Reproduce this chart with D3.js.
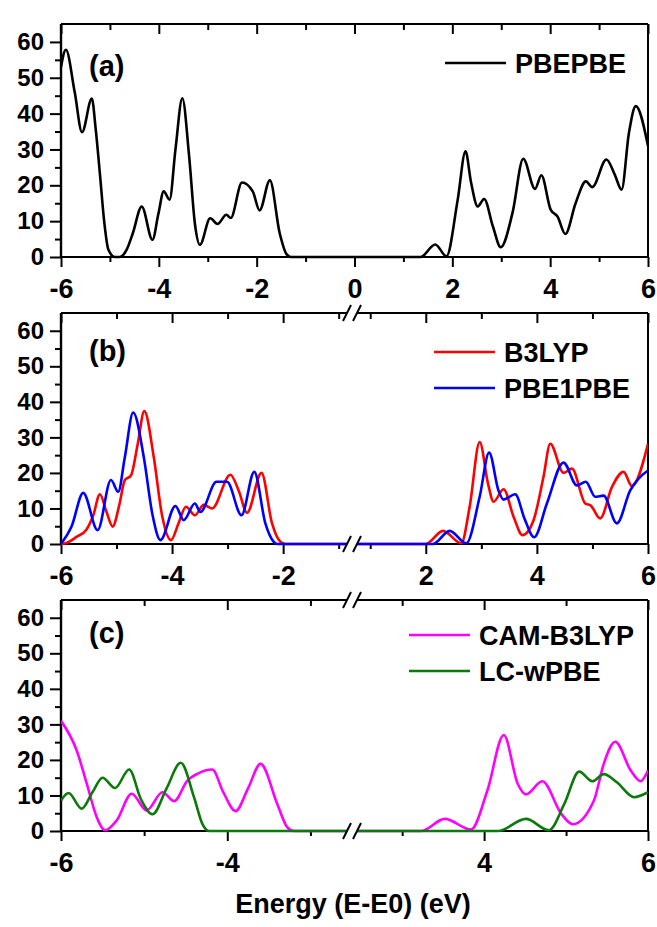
<!DOCTYPE html>
<html>
<head>
<meta charset="utf-8">
<script src="https://cdn.jsdelivr.net/npm/d3@7"></script>
<style>
  body { margin: 0; background: #fff; }
  text { font-family: "Liberation Sans", Arial, sans-serif; font-weight: bold; }
</style>
</head>
<body>
<script>
const width = 657;
const height = 927;

// ---- data (energy in eV, DOS) ----
const pbepbe = [[-6,53],[-5.9,57.8],[-5.72,46],[-5.57,34.8],[-5.37,44.2],[-5.29,35.6],[-5.2,22.5],[-5.12,10.3],
  [-5.03,2],[-4.9,0],[-4.8,0],[-4.66,2],[-4.53,6.7],[-4.35,14.1],[-4.13,4.8],[-4.01,12],[-3.9,18.3],[-3.78,16],
  [-3.66,30],[-3.52,44.3],[-3.38,28],[-3.26,9],[-3.16,3.4],[-2.95,10.8],[-2.8,9.2],[-2.62,11.8],[-2.53,10.9],
  [-2.3,20.8],[-2.08,18.3],[-1.94,13],[-1.73,21.4],[-1.53,6.7],[-1.39,0.8],[-1.3,0],[0,0],[1.35,0],[1.65,3.5],
  [1.88,0.2],[2.11,16],[2.27,29.5],[2.38,21],[2.52,14.1],[2.65,16.2],[2.83,8.5],[2.99,2.7],[3.23,12.3],[3.45,27.4],
  [3.69,19],[3.82,22.8],[4.01,13.2],[4.15,11.3],[4.31,6.4],[4.52,15],[4.73,21.1],[4.86,19.5],[5.15,27.2],[5.32,23],
  [5.46,18.8],[5.61,34.6],[5.75,42.1],[6,31]];

const b3lyp = [[-6,0],[-5.9,0.3],[-5.72,2],[-5.54,4.1],[-5.42,8],[-5.3,14],[-5.18,9],[-5.07,4.9],[-4.95,11],
  [-4.85,18],[-4.74,19.3],[-4.62,28],[-4.5,37.4],[-4.33,24.5],[-4.18,8],[-4.02,1.1],[-3.88,6],[-3.75,10.5],
  [-3.59,8.1],[-3.43,11],[-3.28,10],[-2.95,19.5],[-2.8,15],[-2.65,8.8],[-2.39,20],[-2.2,5.8],[-2.05,0.65],[-1.95,0],
  [0,0],[2,0],[2.31,3.7],[2.64,0.2],[2.79,10.5],[2.97,28.7],[3.12,17],[3.22,11.9],[3.4,15.4],[3.58,7.7],[3.74,2.5],
  [3.94,6.7],[4.12,19],[4.24,28.2],[4.48,20],[4.63,21.2],[4.87,11.4],[4.97,10.8],[5.14,7.2],[5.35,16],[5.56,20.3],
  [5.71,16.3],[6,28.2]];

const pbe1pbe = [[-6,0],[-5.81,4.9],[-5.6,14.4],[-5.34,3.9],[-5.1,18],[-4.97,14.7],[-4.85,24.5],[-4.7,37],
  [-4.51,24.5],[-4.35,8],[-4.21,1.1],[-3.94,10.7],[-3.79,6.7],[-3.59,11.4],[-3.49,9],[-3.2,17.5],[-3.01,17.5],
  [-2.75,8.1],[-2.52,20.3],[-2.32,5.8],[-2.18,0.8],[-2.11,0],[0,0],[2.13,0],[2.43,3.7],[2.73,0.2],[2.97,13.3],
  [3.14,25.7],[3.31,15],[3.4,12.5],[3.61,14],[3.78,7],[3.95,1.9],[4.18,11.4],[4.48,22.9],[4.72,16.5],[4.88,17.5],
  [5.05,13.3],[5.2,13.6],[5.44,5.8],[5.68,15.1],[5.83,18.4],[6,20.7]];

const camb3lyp = [[-6,31],[-5.81,22.6],[-5.69,13.3],[-5.57,3.9],[-5.47,0.2],[-5.33,3],[-5.15,10.5],[-4.97,5.8],
  [-4.78,10.9],[-4.64,8.4],[-4.48,14.2],[-4.36,16.1],[-4.18,17.3],[-4.05,11],[-3.9,5.6],[-3.75,12],[-3.6,18.9],
  [-3.4,7.7],[-3.28,1.1],[-3.2,0],[0,0],[3.23,0],[3.52,3.4],[3.84,0.4],[4.04,11.4],[4.24,27],[4.41,13.3],[4.51,10.3],
  [4.71,14],[4.94,4.9],[5.08,1.9],[5.34,8.6],[5.46,18.9],[5.6,25.1],[5.79,17],[5.91,14],[6,17]];

const lcwpbe = [[-6,8.6],[-5.91,10.7],[-5.75,6.3],[-5.62,11],[-5.5,15],[-5.35,12.1],[-5.18,17.3],[-5.04,9],
  [-4.9,4.7],[-4.73,12],[-4.56,19.2],[-4.4,9.5],[-4.3,2],[-4.22,0],[0,0],[4.17,0],[4.51,3.4],[4.79,0.2],[4.98,7.7],
  [5.16,16.7],[5.32,14],[5.46,16],[5.62,13.7],[5.83,9.5],[6,10.9]];

const yTicks = [0, 10, 20, 30, 40, 50, 60];
const yMinor = [5, 15, 25, 35, 45, 55];

const margin = {left: 61, right: 648};
const breakX = [347, 357];
const fmt = d => String(d);

const panels = [
  {label: '(a)', top: 24, bottom: 257, brk: false,
   segs: [{domain: [-6, 6], range: [61, 648], clip: [61, 648], major: [-6,-4,-2,0,2,4,6], minor: [-5,-3,-1,1,3,5]}],
   series: [{name: 'PBEPBE', data: pbepbe, color: '#000'}],
   legendX: 445, legendY: 63},
  {label: '(b)', top: 313, bottom: 544, brk: true,
   segs: [{domain: [-6, -0.76], range: [61, 352], clip: [61, 347], major: [-6,-4,-2], minor: [-5,-3,-1]},
          {domain: [0.69, 6], range: [353, 648], clip: [357, 648], major: [2,4,6], minor: [1,3,5]}],
   series: [{name: 'B3LYP', data: b3lyp, color: '#ff0000'}, {name: 'PBE1PBE', data: pbe1pbe, color: '#0000ff'}],
   legendX: 434, legendY: 352},
  {label: '(c)', top: 600, bottom: 831, brk: true,
   segs: [{domain: [-6, -2.5], range: [61, 352], clip: [61, 347], major: [-6,-4], minor: [-5,-3]},
          {domain: [2.4, 6], range: [353, 648], clip: [357, 648], major: [4,6], minor: [3,5]}],
   series: [{name: 'CAM-B3LYP', data: camb3lyp, color: '#ff00ff'}, {name: 'LC-wPBE', data: lcwpbe, color: '#0b7a0b'}],
   legendX: 409, legendY: 635}
];

const svg = d3.select('body').append('svg')
  .attr('width', width)
  .attr('height', height);

panels.forEach((p, pi) => {
  const g = svg.append('g');
  const y = d3.scaleLinear().domain([0, 65]).range([p.bottom, p.top]);

  // left axis
  g.append('g').attr('transform', `translate(${margin.left},0)`)
    .call(d3.axisLeft(y).tickValues(yMinor).tickSize(6).tickFormat(''))
    .call(a => a.select('.domain').remove())
    .call(a => a.selectAll('line').attr('stroke-width', 2));
  g.append('g').attr('transform', `translate(${margin.left},0)`)
    .call(d3.axisLeft(y).tickValues(yTicks).tickSize(11).tickPadding(6).tickFormat(fmt))
    .call(a => a.select('.domain').remove())
    .call(a => a.selectAll('line').attr('stroke-width', 2))
    .call(a => a.selectAll('text').attr('font-size', 24).attr('fill', '#000')
      .attr('font-family', '"Liberation Sans", Arial, sans-serif').attr('font-weight', 'bold'));

  // frame verticals
  g.append('line').attr('x1', margin.left).attr('x2', margin.left).attr('y1', p.top).attr('y2', p.bottom)
    .attr('stroke', '#000').attr('stroke-width', 2.4);
  g.append('line').attr('x1', margin.right).attr('x2', margin.right).attr('y1', p.top).attr('y2', p.bottom)
    .attr('stroke', '#000').attr('stroke-width', 2);

  p.segs.forEach((s, si) => {
    const x = d3.scaleLinear().domain(s.domain).range(s.range);
    // bottom ticks (outward) + labels
    g.append('g').attr('transform', `translate(0,${p.bottom})`)
      .call(d3.axisBottom(x).tickValues(s.minor).tickSize(5).tickFormat(''))
      .call(a => a.select('.domain').remove())
      .call(a => a.selectAll('line').attr('stroke-width', 2));
    g.append('g').attr('transform', `translate(0,${p.bottom})`)
      .call(d3.axisBottom(x).tickValues(s.major).tickSize(10).tickPadding(12).tickFormat(fmt))
      .call(a => a.select('.domain').remove())
      .call(a => a.selectAll('line').attr('stroke-width', 2))
      .call(a => a.selectAll('text').attr('font-size', 27).attr('fill', '#000')
        .attr('font-family', '"Liberation Sans", Arial, sans-serif').attr('font-weight', 'bold'));
    // top ticks (inward)
    g.append('g').attr('transform', `translate(0,${p.top})`)
      .call(d3.axisBottom(x).tickValues(s.minor).tickSize(6).tickFormat(''))
      .call(a => a.select('.domain').remove())
      .call(a => a.selectAll('line').attr('stroke-width', 2));
    g.append('g').attr('transform', `translate(0,${p.top})`)
      .call(d3.axisBottom(x).tickValues(s.major).tickSize(10).tickFormat(''))
      .call(a => a.select('.domain').remove())
      .call(a => a.selectAll('line').attr('stroke-width', 2));

    // horizontal frame pieces
    [p.top, p.bottom].forEach(yy => {
      g.append('line').attr('x1', s.clip[0]).attr('x2', s.clip[1]).attr('y1', yy).attr('y2', yy)
        .attr('stroke', '#000').attr('stroke-width', 2);
    });

    const clipId = `clip-${pi}-${si}`;
    svg.append('clipPath').attr('id', clipId).append('rect')
      .attr('x', s.clip[0]).attr('y', p.top).attr('width', s.clip[1] - s.clip[0]).attr('height', p.bottom - p.top + 2);

    const line = d3.line()
      .x(d => x(d[0]))
      .y(d => y(d[1]))
      .curve(d3.curveMonotoneX);

    p.series.forEach(ser => {
      g.append('path')
        .datum(ser.data)
        .attr('clip-path', `url(#${clipId})`)
        .attr('fill', 'none')
        .attr('stroke', ser.color)
        .attr('stroke-width', 2.6)
        .attr('stroke-linejoin', 'round')
        .attr('d', line);
    });
  });

  // axis break marks
  if (p.brk) {
    [p.top, p.bottom].forEach(yy => {
      breakX.forEach(bx => {
        g.append('line').attr('x1', bx - 4).attr('y1', yy + 8).attr('x2', bx + 4).attr('y2', yy - 8)
          .attr('stroke', '#000').attr('stroke-width', 2);
      });
    });
  }

  // panel label
  g.append('text').attr('x', 89).attr('y', [76, 361, 643][pi])
    .attr('font-size', 29).attr('fill', '#000').text(p.label);

  // legend
  p.series.forEach((ser, i) => {
    const ly = p.legendY + i * 36;
    g.append('line').attr('x1', p.legendX).attr('x2', p.legendX + 61).attr('y1', ly).attr('y2', ly)
      .attr('stroke', ser.color).attr('stroke-width', 2.6);
    g.append('text').attr('x', p.legendX + 70).attr('y', ly + 10)
      .attr('font-size', 27).attr('fill', '#000').text(ser.name);
  });
});

svg.append('text')
  .attr('x', 353).attr('y', 913)
  .attr('text-anchor', 'middle')
  .attr('font-size', 27)
  .attr('fill', '#000')
  .text('Energy (E-E0) (eV)');
</script>
</body>
</html>
